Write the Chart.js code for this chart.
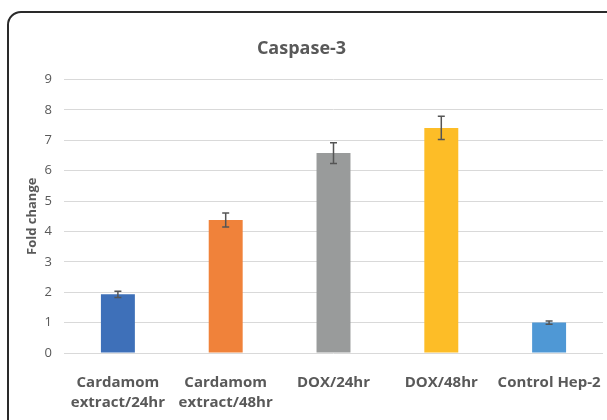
<!DOCTYPE html>
<html>
<head>
<meta charset="utf-8">
<script src="https://cdn.jsdelivr.net/npm/chart.js@4.4.1/dist/chart.umd.min.js"></script>
<style>
  html, body { margin: 0; padding: 0; background: #ffffff; }
  #wrap { position: relative; width: 607px; height: 420px; overflow: hidden; background: #fff; }
  #frame { position: absolute; left: 7px; top: 11px; width: 620px; height: 430px;
           border: 2px solid #2a2a2a; border-radius: 14px; box-sizing: border-box; }
  #c { position: absolute; left: 0; top: 0; }
</style>
</head>
<body>
<div id="wrap">
  <div id="frame"></div>
  <canvas id="c" width="607" height="420"></canvas>
</div>
<script>
const categories = [
  ["Cardamom", "extract/24hr"],
  ["Cardamom", "extract/48hr"],
  "DOX/24hr",
  "DOX/48hr",
  "Control Hep-2"
];
const foldChange = [1.93, 4.38, 6.58, 7.41, 1.0];
const errors = [0.10, 0.23, 0.34, 0.38, 0.05];
const yTicks = [0, 1, 2, 3, 4, 5, 6, 7, 8, 9];
const barColors = ["#3E70B9", "#F0823A", "#999B9B", "#FDBD27", "#4F98D5"];

const errorBarPlugin = {
  id: "errorBars",
  afterDatasetsDraw(chart) {
    const ctx = chart.ctx;
    const meta = chart.getDatasetMeta(0);
    const y = chart.scales.y;
    ctx.save();
    ctx.strokeStyle = "#555555";
    ctx.lineWidth = 1.5;
    meta.data.forEach((bar, i) => {
      const v = foldChange[i], e = errors[i];
      const x = bar.x;
      const yTop = y.getPixelForValue(v + e);
      const yBot = y.getPixelForValue(v - e);
      const cap = 3.5;
      ctx.beginPath();
      ctx.moveTo(x, yTop); ctx.lineTo(x, yBot);
      ctx.moveTo(x - cap, yTop); ctx.lineTo(x + cap, yTop);
      ctx.moveTo(x - cap, yBot); ctx.lineTo(x + cap, yBot);
      ctx.stroke();
    });
    ctx.restore();
  }
};

new Chart(document.getElementById("c"), {
  type: "bar",
  data: {
    labels: categories,
    datasets: [{
      data: foldChange,
      backgroundColor: barColors,
      borderWidth: 0,
      categoryPercentage: 1.0,
      barPercentage: 0.315
    }]
  },
  options: {
    responsive: false,
    animation: false,
    devicePixelRatio: 1,
    layout: { padding: { left: 0, right: 4, top: 0, bottom: 7 } },
    plugins: {
      legend: { display: false },
      tooltip: { enabled: false },
      title: {
        display: true,
        text: "Caspase-3",
        color: "#595959",
        font: { family: "Open Sans", size: 18, weight: "bold", lineHeight: 1.2 },
        padding: { top: 38, bottom: 20 }
      }
    },
    scales: {
      x: {
        afterFit(scale) {
          scale.height = 60;
          scale.paddingLeft = 0;
          scale.paddingRight = 0;
        },
        grid: { display: false, drawTicks: false },
        border: { display: false },
        ticks: {
          color: "#595959",
          font: { family: "Open Sans", size: 15, weight: "bold", lineHeight: 1.33 },
          padding: 20,
          maxRotation: 0,
          autoSkip: false
        }
      },
      y: {
        min: 0,
        max: 9,
        afterBuildTicks(scale) { scale.ticks = yTicks.map(v => ({ value: v })); },
        afterFit(scale) { scale.width = 64; },
        grid: { color: "#d9d9d9", lineWidth: 1, drawTicks: false },
        border: { display: false },
        ticks: {
          color: "#595959",
          font: { family: "Open Sans", size: 13 },
          padding: 12
        },
        title: {
          display: true,
          text: "Fold change",
          color: "#595959",
          font: { family: "Open Sans", size: 13, weight: "bold", lineHeight: 1.2 },
          padding: { top: 24, bottom: 0 }
        }
      }
    }
  },
  plugins: [errorBarPlugin]
});
</script>
</body>
</html>
